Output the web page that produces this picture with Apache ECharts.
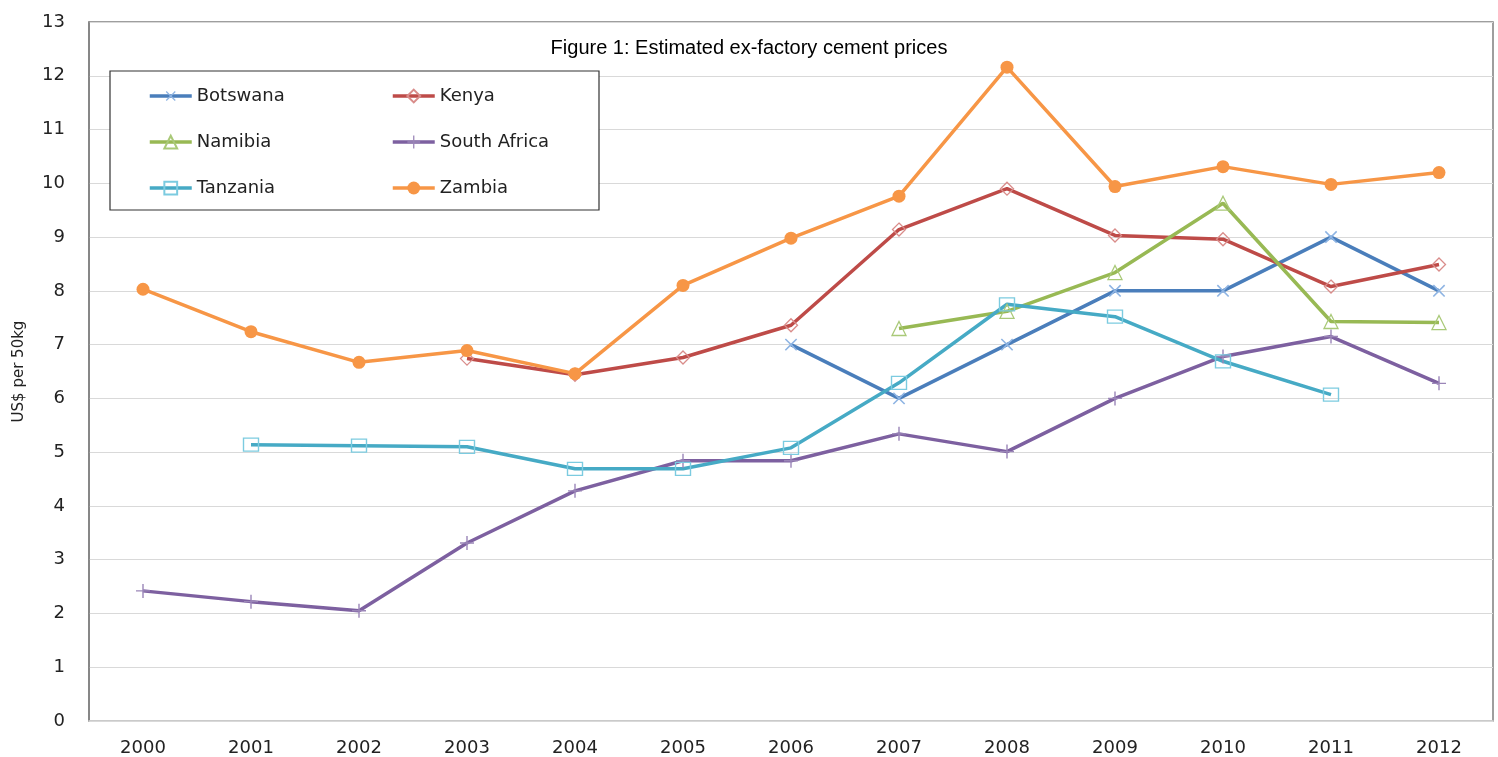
<!DOCTYPE html>
<html>
<head>
<meta charset="utf-8">
<title>Estimated ex-factory cement prices</title>
<script src="https://cdn.jsdelivr.net/npm/echarts@6/dist/echarts.min.js"></script>
<style>
  html, body { margin: 0; padding: 0; background: #fff; }
  #chart { width: 1498px; height: 757px; }
</style>
</head>
<body>
<div id="chart"></div>
<script>
// Years on the category axis
const years = ['2000','2001','2002','2003','2004','2005','2006','2007','2008','2009','2010','2011','2012'];

// Ex-factory cement price, US$ per 50kg bag (null = no data)
const botswana    = [null, null, null, null, null, null, 7.0, 6.0, 7.0, 8.0, 8.0, 9.0, 8.0];
const kenya       = [null, null, null, 6.74, 6.44, 6.76, 7.36, 9.14, 9.90, 9.03, 8.96, 8.08, 8.49];
const namibia     = [null, null, null, null, null, null, null, 7.30, 7.62, 8.34, 9.63, 7.43, 7.41];
const southAfrica = [2.42, 2.22, 2.05, 3.31, 4.28, 4.84, 4.84, 5.34, 5.01, 6.0, 6.78, 7.15, 6.28];
const tanzania    = [null, 5.14, 5.12, 5.10, 4.69, 4.69, 5.08, 6.29, 7.75, 7.52, 6.69, 6.07, null];
const zambia      = [8.03, 7.24, 6.67, 6.89, 6.46, 8.10, 8.98, 9.76, 12.16, 9.94, 10.31, 9.98, 10.20];

const yTicks = { min: 0, max: 13, interval: 1 };

const PLUS = 'path://M9,0 H11 V9 H20 V11 H11 V20 H9 V11 H0 V9 H9 Z';

function lineSeries(name, data, lineColor, markColor, symbol, size, hollow, rotate) {
  return {
    name: name,
    type: 'line',
    data: data,
    symbol: symbol,
    symbolSize: size,
    symbolRotate: rotate || 0,
    showAllSymbol: true,
    lineStyle: { color: lineColor, width: 3.5 },
    itemStyle: hollow
      ? { color: 'rgba(255,255,255,0)', borderColor: markColor, borderWidth: 1.3 }
      : { color: markColor, borderWidth: 0 },
    emphasis: { disabled: true },
    animation: false
  };
}

const series = [
  lineSeries('Botswana', botswana, '#4a7ebb', '#8eb4e3', PLUS, 16, false, 45),
  lineSeries('Kenya', kenya, '#be4b48', '#d98c8a', 'diamond', 13, true),
  lineSeries('Namibia', namibia, '#98b954', '#a9c978', 'triangle', 14, true),
  lineSeries('South Africa', southAfrica, '#7d60a0', '#9b86b8', PLUS, 14, false),
  lineSeries('Tanzania', tanzania, '#46aac5', '#7ccbe0', 'rect', [15, 13], true),
  lineSeries('Zambia', zambia, '#f79646', '#f79646', 'circle', 13, false)
];

const legendText = { fontFamily: 'DejaVu Sans', fontSize: 18, color: '#222' };

function legendColumn(names, left) {
  return {
    data: names,
    orient: 'vertical',
    left: left,
    top: 82,
    itemWidth: 42,
    itemHeight: 16,
    itemGap: 28,
    lineStyle: { width: 3.5 },
    textStyle: legendText,
    selectedMode: false
  };
}

const option = {
  backgroundColor: '#fff',
  animation: false,
  title: {
    text: 'Figure 1: Estimated ex-factory cement prices',
    left: 744,
    textAlign: 'center',
    top: 33,
    textStyle: { fontFamily: 'Liberation Sans', fontSize: 20, fontWeight: 'normal', color: '#000' }
  },
  legend: [
    legendColumn(['Botswana', 'Namibia', 'Tanzania'], 143),
    legendColumn(['Kenya', 'South Africa', 'Zambia'], 386)
  ],
  graphic: [
    {
      type: 'rect',
      shape: { x: 110, y: 71, width: 489, height: 139 },
      style: { fill: '#fff', stroke: '#333', lineWidth: 1.2 },
      z: 3
    }
  ],
  grid: {
    left: 89, right: 5, top: 22, bottom: 36,
    show: true,
    borderColor: '#7f7f7f',
    borderWidth: 1.5,
    containLabel: false
  },
  xAxis: {
    type: 'category',
    data: years,
    boundaryGap: true,
    axisLine: { show: true, lineStyle: { color: '#d9d9d9', width: 1.5 } },
    axisTick: { show: false },
    axisLabel: { fontFamily: 'DejaVu Sans', fontSize: 18, color: '#222', margin: 18 }
  },
  yAxis: {
    type: 'value',
    min: yTicks.min,
    max: yTicks.max,
    interval: yTicks.interval,
    name: 'US$ per 50kg',
    nameLocation: 'middle',
    nameRotate: 90,
    nameGap: 62,
    nameTextStyle: { fontFamily: 'DejaVu Sans', fontSize: 15, color: '#222' },
    axisLine: { show: true, lineStyle: { color: '#7f7f7f', width: 1.5 } },
    axisTick: { show: false },
    splitLine: { show: true, lineStyle: { color: '#d9d9d9', width: 1 } },
    axisLabel: { fontFamily: 'DejaVu Sans', fontSize: 18, color: '#222', margin: 24 }
  },
  series: series
};

const chart = echarts.init(document.getElementById('chart'), null, { renderer: 'canvas' });
chart.setOption(option);
</script>
</body>
</html>
